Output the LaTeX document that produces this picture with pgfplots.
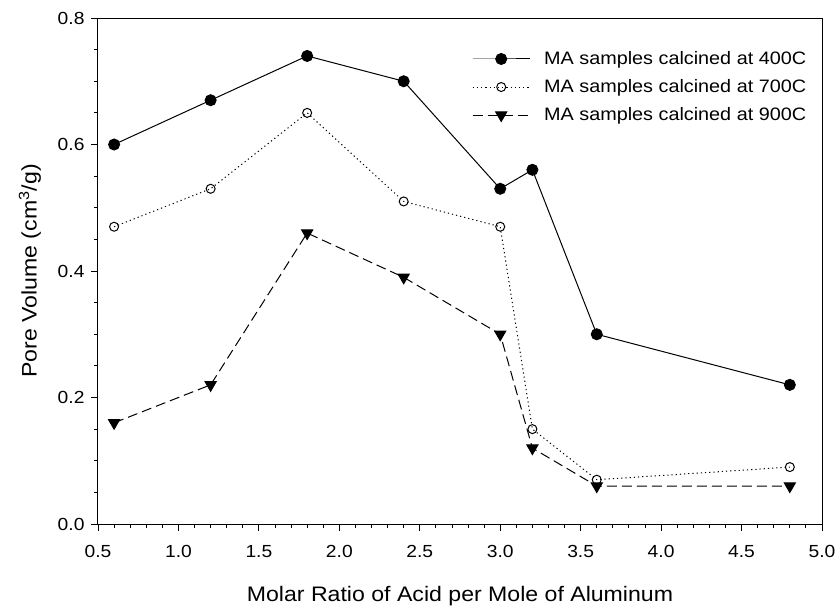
\documentclass[border=0pt]{standalone}
\usepackage{pgfplots}
\pgfplotsset{compat=1.18}
\usepackage{fontspec}
\setmainfont[FakeStretch=1.1]{Liberation Sans}
\begin{document}
\begin{tikzpicture}
\begin{axis}[
  scale only axis,
  width=724bp, height=506bp,
  xmin=0.5, xmax=5.0, ymin=0, ymax=0.8,
  xtick={0.5,1.0,...,5.0}, ytick={0,0.2,...,0.8},
  minor x tick num=4, minor y tick num=3,
  tick pos=left, tick align=outside,
  major tick length=7bp, minor tick length=4bp,
  every tick/.style={black, line width=0.9bp},
  axis line style={line width=1bp},
  /pgf/number format/assume math mode=true,
  xticklabel style={/pgf/number format/.cd, fixed, fixed zerofill, precision=1, /tikz/.cd, yshift=-11bp},
  yticklabel style={/pgf/number format/.cd, fixed, fixed zerofill, precision=1, /tikz/.cd, xshift=-3bp},
  tick label style={font=\fontsize{17.5bp}{20bp}\selectfont},
  xlabel={Molar Ratio of Acid per Mole of Aluminum},
  ylabel={Pore Volume (cm\textsuperscript{3}/g)},
  every axis x label/.style={at={(axis description cs:0.5,-0.143)}, anchor=center, font=\fontsize{21bp}{24bp}\selectfont},
  every axis y label/.style={at={(axis description cs:-0.094,0.5)}, anchor=center, rotate=90, font=\fontsize{21bp}{24bp}\selectfont},
  legend style={at={(axis description cs:0.5166,0.8636)}, anchor=west, draw=none, fill=none,
    inner sep=0pt, nodes={inner sep=0pt, anchor=west}, column sep=14bp, row sep=13.5bp,
    font=\fontsize{18bp}{21bp}\selectfont},
  legend cell align=left,
  legend image code/.code={\draw[mark repeat=2,mark phase=2,#1] plot coordinates {(0bp,0bp) (28.5bp,0bp) (57bp,0bp)};},
]
\addplot[black, line width=1bp, mark=*, mark size=5.5bp, mark options={solid, fill=black}] coordinates {
 (0.6,0.60) (1.2,0.67) (1.8,0.74) (2.4,0.70) (3.0,0.53) (3.2,0.56) (3.6,0.30) (4.8,0.22)};
\addlegendentry{MA samples calcined at 400C}
\addplot[black, line width=1bp, dash pattern=on 1.2bp off 3bp, mark=o, mark size=4.5bp, mark options={solid, fill=white}] coordinates {
 (0.6,0.47) (1.2,0.53) (1.8,0.65) (2.4,0.51) (3.0,0.47) (3.2,0.15) (3.6,0.07) (4.8,0.09)};
\addlegendentry{MA samples calcined at 700C}
\addplot[black, line width=1bp, dash pattern=on 10bp off 5bp, mark=triangle*, mark size=6.4bp, mark options={solid, fill=black, rotate=180}] coordinates {
 (0.6,0.16) (1.2,0.22) (1.8,0.46) (2.4,0.39) (3.0,0.30) (3.2,0.12) (3.6,0.06) (4.8,0.06)};
\addlegendentry{MA samples calcined at 900C}
\end{axis}
\pgfresetboundingbox
\useasboundingbox (-98bp,-86bp) rectangle (742bp,524bp);
\end{tikzpicture}
\end{document}
